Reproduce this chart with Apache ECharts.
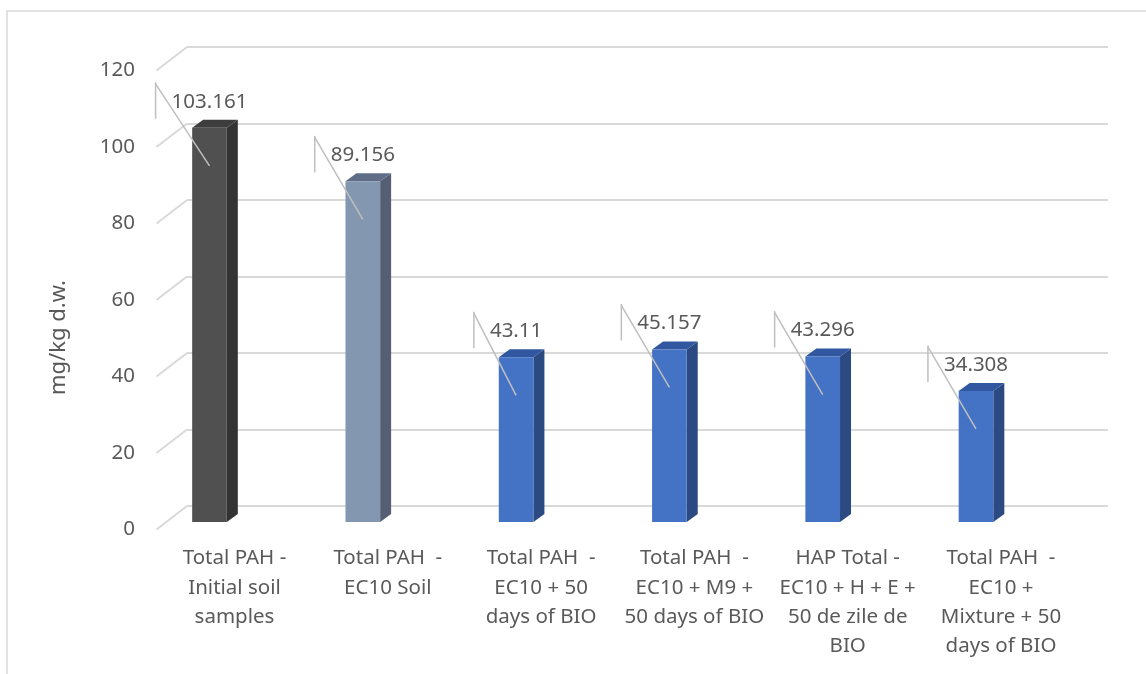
<!DOCTYPE html>
<html>
<head>
<meta charset="utf-8">
<script src="https://cdn.jsdelivr.net/npm/echarts@6/dist/echarts.min.js"></script>
<style>
  html, body { margin: 0; padding: 0; background: #ffffff; }
  #chart { width: 1146px; height: 674px; }
</style>
</head>
<body>
<div id="chart"></div>
<script>
// Total PAH content per soil sample (mg/kg dry weight)
const categories = [
  'Total PAH -\nInitial soil\nsamples',
  'Total PAH  -\nEC10 Soil',
  'Total PAH  -\nEC10 + 50\ndays of BIO',
  'Total PAH  -\nEC10 + M9 +\n50 days of BIO',
  'HAP Total -\nEC10 + H + E +\n50 de zile de\nBIO',
  'Total PAH  -\nEC10 +\nMixture + 50\ndays of BIO'
];
const values = [103.161, 89.156, 43.11, 45.157, 43.296, 34.308];
const valueLabels = ['103.161', '89.156', '43.11', '45.157', '43.296', '34.308'];
const yTicks = [0, 20, 40, 60, 80, 100, 120];
const yTickLabels = ['0', '20', '40', '60', '80', '100', '120'];

// front / side / top face colours for each column
const faceColors = [
  ['#505050', '#333333', '#3d3d3d'],
  ['#8497b0', '#545f73', '#5f6e86'],
  ['#4472c4', '#2c4a82', '#3157a0'],
  ['#4472c4', '#2c4a82', '#3157a0'],
  ['#4472c4', '#2c4a82', '#3157a0'],
  ['#4472c4', '#2c4a82', '#3157a0']
];

const FONT = '"Noto Sans", sans-serif';
const TEXT_COLOR = '#595959';
const GRID_COLOR = '#d9d9d9';
const LEADER_COLOR = '#bfbfbf';
const DEPTH_X = 11, DEPTH_Y = 8;

const measureCtx = document.createElement('canvas').getContext('2d');
measureCtx.font = '20.5px ' + FONT;

const chart = echarts.init(document.getElementById('chart'), null, { renderer: 'canvas' });

function renderColumn(params, api) {
  const i = api.value(0);
  const v = api.value(1);
  const top = api.coord([i, v]);
  const base = api.coord([i, 0]);
  const w = api.size([1, 0])[0] * 0.226;
  const x0 = top[0] - w / 2, x1 = top[0] + w / 2;
  const c = faceColors[params.dataIndex];
  return {
    type: 'group',
    children: [
      { type: 'polygon', shape: { points: [[x1, top[1]], [x1 + DEPTH_X, top[1] - DEPTH_Y], [x1 + DEPTH_X, base[1] - DEPTH_Y], [x1, base[1]]] }, style: { fill: c[1] } },
      { type: 'polygon', shape: { points: [[x0, top[1]], [x0 + DEPTH_X, top[1] - DEPTH_Y], [x1 + DEPTH_X, top[1] - DEPTH_Y], [x1, top[1]]] }, style: { fill: c[2] } },
      { type: 'rect', shape: { x: x0, y: top[1], width: w, height: base[1] - top[1] }, style: { fill: c[0] } }
    ]
  };
}

function renderValueLabel(params, api) {
  const i = api.value(0);
  const v = api.value(1);
  const top = api.coord([i, v]);
  const text = valueLabels[params.dataIndex];
  const tw = measureCtx.measureText(text).width;
  const cx = top[0];
  const ty = top[1] - 26;
  const vx = cx - tw / 2 - 16;
  return {
    type: 'group',
    children: [
      { type: 'line', shape: { x1: vx, y1: top[1] - 45.5, x2: vx, y2: top[1] - 9 }, style: { stroke: LEADER_COLOR, lineWidth: 1.5 } },
      { type: 'line', shape: { x1: vx, y1: top[1] - 44, x2: cx, y2: top[1] + 38 }, style: { stroke: LEADER_COLOR, lineWidth: 1.5 } },
      { type: 'text', style: { text: text, x: cx, y: ty, textAlign: 'center', textVerticalAlign: 'middle', font: '20.5px ' + FONT, fill: TEXT_COLOR } }
    ]
  };
}

function renderFloorEdge(params, api) {
  const p = api.coord([0, api.value(1)]);
  return {
    type: 'line',
    shape: { x1: p[0] - 30.5, y1: p[1] + 23.5, x2: p[0], y2: p[1] },
    style: { stroke: GRID_COLOR, lineWidth: 2 }
  };
}

const option = {
  animation: false,
  backgroundColor: '#ffffff',
  graphic: [{
    type: 'rect', silent: true, z: -10,
    shape: { x: 7, y: 11, width: 1200, height: 700 },
    style: { fill: 'none', stroke: GRID_COLOR, lineWidth: 1.5 }
  }],
  grid: [
    { left: 132.85, top: 63.5, width: 919.8, height: 458.5 },   // column plane
    { left: 187, top: 47, width: 921, height: 459 },           // back wall
    { left: 157, top: 70.5, width: 921, height: 459 }          // front edge
  ],
  xAxis: [
    {
      gridIndex: 0, type: 'category', data: categories,
      axisLine: { show: false }, axisTick: { show: false }, splitLine: { show: false },
      axisLabel: {
        interval: 0, margin: 22, color: TEXT_COLOR, fontFamily: FONT,
        fontSize: 20.5, lineHeight: 29.3, padding: [0, 0, 0, 50], align: 'center'
      }
    },
    { gridIndex: 1, type: 'value', min: 0, max: 1, show: false },
    { gridIndex: 2, type: 'value', min: 0, max: 1, show: false }
  ],
  yAxis: [
    { gridIndex: 0, type: 'value', min: 0, max: 120, interval: 20, show: false },
    {
      gridIndex: 1, type: 'value', min: 0, max: 120, interval: 20,
      axisLine: { show: false }, axisTick: { show: false }, axisLabel: { show: false },
      splitLine: { show: true, lineStyle: { color: GRID_COLOR, width: 2 } }
    },
    {
      gridIndex: 2, type: 'value', min: 0, max: 120, interval: 20,
      axisLine: { show: false }, axisTick: { show: false }, splitLine: { show: false },
      axisLabel: {
        margin: 22, color: TEXT_COLOR, fontFamily: FONT, fontSize: 20.5,
        formatter: function (val) { return yTickLabels[yTicks.indexOf(val)]; }
      },
      name: 'mg/kg d.w.', nameLocation: 'middle', nameGap: 87,
      nameTextStyle: { color: TEXT_COLOR, fontFamily: FONT, fontSize: 22, padding: [0, 75, 0, 0] }
    }
  ],
  series: [
    {
      type: 'custom', xAxisIndex: 1, yAxisIndex: 1, z: 1,
      data: yTicks.map(function (t) { return [0, t]; }),
      renderItem: renderFloorEdge, silent: true
    },
    {
      type: 'custom', xAxisIndex: 0, yAxisIndex: 0, z: 2,
      data: values.map(function (v, i) { return [i, v]; }),
      renderItem: renderColumn
    },
    {
      type: 'custom', xAxisIndex: 0, yAxisIndex: 0, z: 3,
      data: values.map(function (v, i) { return [i, v]; }),
      renderItem: renderValueLabel, silent: true
    }
  ]
};

chart.setOption(option);
</script>
</body>
</html>
